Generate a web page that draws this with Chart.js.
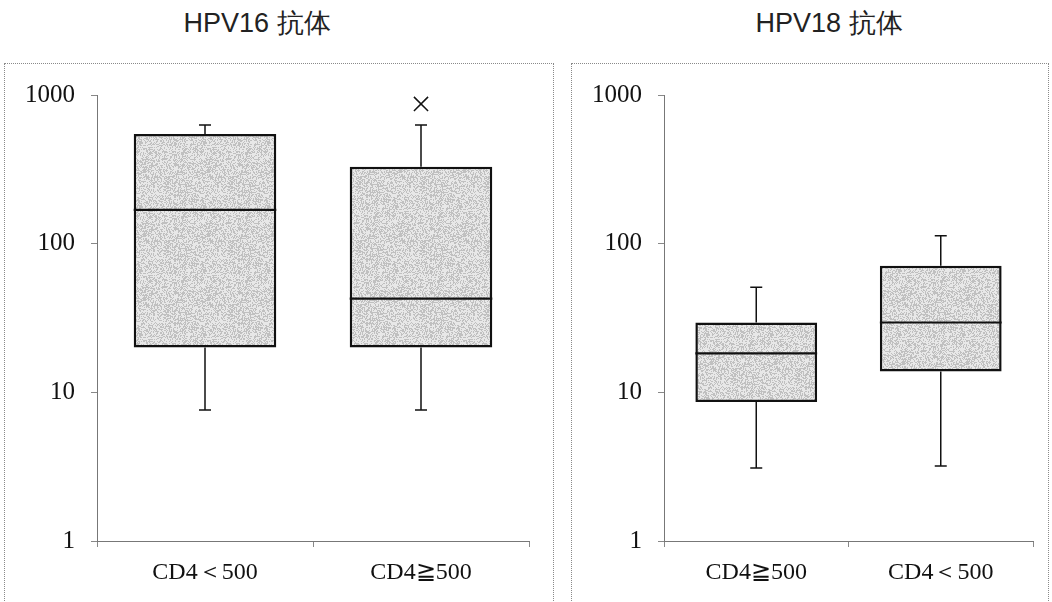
<!DOCTYPE html>
<html>
<head>
<meta charset="utf-8">
<script src="https://cdn.jsdelivr.net/npm/chart.js@4"></script>
<style>
  body { margin: 0; background: #fff; width: 1052px; height: 602px; overflow: hidden; position: relative; }
  .title { position: absolute; top: 5px; width: 300px; text-align: center; font: 27px "Liberation Sans", Arial, sans-serif; color: #222; }
  .panel { position: absolute; top: 63px; height: 560px; border: 1px dotted #8a8a8a; box-sizing: border-box; }
  .panel canvas { position: absolute; left: 0; top: 0; }
</style>
</head>
<body>
<div class="title" style="left:107px">HPV16 抗体</div>
<div class="title" style="left:679px">HPV18 抗体</div>
<div class="panel" style="left:4px; width:550px"><canvas id="chart16" width="549" height="547"></canvas></div>
<div class="panel" style="left:571px; width:478px"><canvas id="chart18" width="477" height="547"></canvas></div>
<script>
'use strict';

// HPV16 antibody titres
var hpv16Groups = ['CD4＜500', 'CD4≧500'];
var hpv16Min = [7.6, 7.6];
var hpv16Q1 = [20, 20];
var hpv16Median = [169, 42.7];
var hpv16Q3 = [547, 329];
var hpv16Max = [629, 629];
var hpv16Outliers = [null, 871];

// HPV18 antibody titres
var hpv18Groups = ['CD4≧500', 'CD4＜500'];
var hpv18Min = [3.1, 3.2];
var hpv18Q1 = [8.6, 13.8];
var hpv18Median = [18.3, 29.5];
var hpv18Q3 = [29.5, 71];
var hpv18Max = [51, 113];
var hpv18Outliers = [null, null];

var yTicks = [1, 10, 100, 1000];

var serif = '"Liberation Serif", "Times New Roman", serif';

// grainy grey fill like the printed screen tone
function makeStipple() {
    var c = document.createElement('canvas');
    c.width = 64; c.height = 64;
    var g = c.getContext('2d');
    var img = g.createImageData(64, 64);
    var s = 12345;
    for (var i = 0; i < 64 * 64; i++) {
        s = (s * 1103515245 + 12345) & 0x7fffffff;
        var v = (s >> 16) % 100 < 45 ? 192 : 232;
        img.data[i * 4] = v;
        img.data[i * 4 + 1] = v;
        img.data[i * 4 + 2] = v;
        img.data[i * 4 + 3] = 255;
    }
    g.putImageData(img, 0, 0);
    return g.createPattern(c, 'repeat');
}

// whiskers + median drawn on top of the floating bars
var boxPlugin = {
    id: 'boxParts',
    afterDatasetsDraw: function (chart) {
        var stats = chart.options.plugins.boxParts;
        var meta = chart.getDatasetMeta(0);
        var y = chart.scales.y;
        var ctx = chart.ctx;
        ctx.save();
        ctx.strokeStyle = '#111';
        meta.data.forEach(function (bar, i) {
            var half = bar.width / 2;
            var yMed = y.getPixelForValue(stats.median[i]);
            var yQ1 = y.getPixelForValue(stats.q1[i]);
            var yQ3 = y.getPixelForValue(stats.q3[i]);
            var yMin = y.getPixelForValue(stats.min[i]);
            var yMax = y.getPixelForValue(stats.max[i]);
            ctx.lineWidth = 2.2;
            ctx.beginPath();
            ctx.moveTo(bar.x - half, yMed);
            ctx.lineTo(bar.x + half, yMed);
            ctx.stroke();
            ctx.lineWidth = 1.5;
            ctx.beginPath();
            ctx.moveTo(bar.x, yQ3); ctx.lineTo(bar.x, yMax);
            ctx.moveTo(bar.x - 6, yMax); ctx.lineTo(bar.x + 6, yMax);
            ctx.moveTo(bar.x, yQ1); ctx.lineTo(bar.x, yMin);
            ctx.moveTo(bar.x - 6, yMin); ctx.lineTo(bar.x + 6, yMin);
            ctx.stroke();
        });
        ctx.restore();
    }
};

function makeBoxChart(id, groups, mins, q1, medians, q3, maxs, outliers, rightPad) {
    var ctx = document.getElementById(id).getContext('2d');
    return new Chart(ctx, {
        type: 'bar',
        data: {
            labels: groups,
            datasets: [{
                data: groups.map(function (g, i) { return [q1[i], q3[i]]; }),
                backgroundColor: makeStipple(),
                borderColor: '#111',
                borderWidth: 2.5,
                borderSkipped: false,
                barPercentage: 0.66,
                categoryPercentage: 1
            }, {
                type: 'line',
                data: outliers,
                showLine: false,
                pointStyle: 'crossRot',
                pointRadius: 10,
                pointBorderColor: '#111',
                pointBorderWidth: 1.5
            }]
        },
        options: {
            responsive: false,
            animation: false,
            layout: { padding: { left: 0, top: 30, right: rightPad, bottom: 0 } },
            plugins: {
                legend: { display: false },
                tooltip: { enabled: false },
                boxParts: { min: mins, q1: q1, median: medians, q3: q3, max: maxs }
            },
            scales: {
                x: {
                    grid: { drawOnChartArea: false, offset: true, tickLength: 6, color: '#888' },
                    border: { color: '#777', dash: [1, 1] },
                    ticks: { color: '#111', padding: 11, font: { family: serif, size: 24 } },
                    afterFit: function (scale) { scale.height = 70; }
                },
                y: {
                    type: 'logarithmic',
                    min: 1,
                    max: 1000,
                    afterBuildTicks: function (scale) {
                        scale.ticks = yTicks.map(function (v) { return { value: v }; });
                    },
                    grid: { drawOnChartArea: false, tickLength: 6, color: '#888' },
                    border: { color: '#777', dash: [1, 1] },
                    ticks: {
                        color: '#111',
                        padding: 16,
                        font: { family: serif, size: 25 },
                        callback: function (v) { return String(v); }
                    },
                    afterFit: function (scale) { scale.width = 92; }
                }
            }
        },
        plugins: [boxPlugin]
    });
}

makeBoxChart('chart16', hpv16Groups, hpv16Min, hpv16Q1, hpv16Median, hpv16Q3, hpv16Max, hpv16Outliers, 25);
makeBoxChart('chart18', hpv18Groups, hpv18Min, hpv18Q1, hpv18Median, hpv18Q3, hpv18Max, hpv18Outliers, 16);
</script>
</body>
</html>
